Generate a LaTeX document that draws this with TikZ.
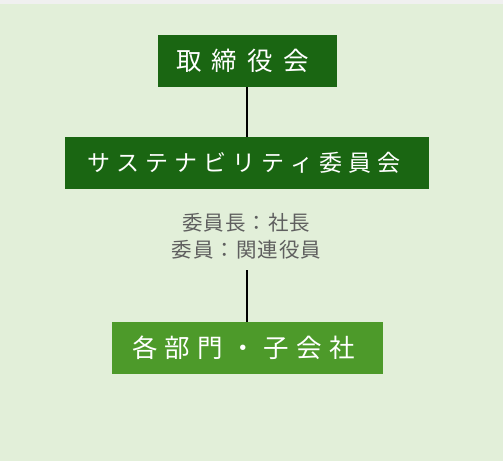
\documentclass[tikz,border=0pt]{standalone}
\usepackage{fontspec}
\setmainfont{Noto Sans CJK JP}
\definecolor{bgtop}{HTML}{F0F0F0}
\definecolor{bggreen}{HTML}{E2EFD9}
\definecolor{darkg}{HTML}{1A6612}
\definecolor{midg}{HTML}{4D9A2A}
\definecolor{captg}{HTML}{5F5F5F}
\newcommand\myk{0pt}
\def\spacedaux#1{\ifx#1\relax\else#1\kern\myk\relax\expandafter\spacedaux\fi}
\newcommand\spaced[2]{\def\myk{#1}\spacedaux#2\relax}
\begin{document}
\begin{tikzpicture}[x=1pt,y=-1pt,
  box/.style={inner sep=0pt, outer sep=0pt, text=white, minimum height=52pt},
  capt/.style={inner sep=0pt, text=captg, align=center, font=\fontsize{20.5}{27}\selectfont},
  conn/.style={line width=1.5pt, black}]
\useasboundingbox (0,0) rectangle (503,461);
\fill[bgtop] (0,0) rectangle (503,461);
\fill[bggreen] (0,4) rectangle (503,461);
\node[box, fill=darkg, minimum width=179pt, font=\fontsize{25.5}{28}\selectfont] (b1) at (247.5,61) {\spaced{10.2pt}{取締役会}};
\node[box, fill=darkg, minimum width=364pt, font=\fontsize{23}{26}\selectfont] (b2) at (247,163) {\spaced{6pt}{サステナビリティ委員会}};
\node[capt] (cap) at (247,236.5) {\spaced{1pt}{委員長：社長}\\\spaced{1pt}{委員：関連役員}};
\coordinate (c1) at (247,270);
\node[box, fill=midg, minimum width=271pt, font=\fontsize{25.5}{28}\selectfont] (b3) at (247.5,348) {\spaced{7.5pt}{各部門・子会社}};
\draw[conn] (b1.south -| 247,0) -- (b2.north -| 247,0);
\draw[conn] (c1) -- (b3.north -| c1);
\end{tikzpicture}
\end{document}
